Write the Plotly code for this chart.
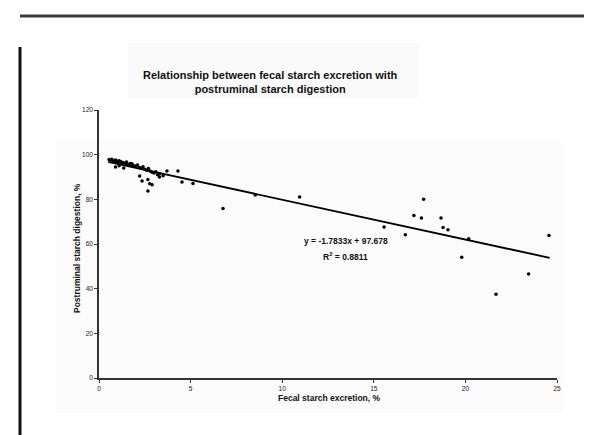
import plotly.graph_objects as go
import numpy as np

# Fecal starch excretion (%) vs postruminal starch digestion (%)
fecal_starch = [0.55, 0.65, 0.7, 0.8, 0.85, 0.9, 1.0, 1.05, 1.1, 1.2, 1.25, 1.3, 1.4, 1.45, 1.5,
                1.6, 1.7, 1.75, 1.8, 1.9, 2.0, 2.1, 2.2, 2.3, 2.4, 2.5, 2.6, 2.7, 2.8, 2.9, 3.0,
                3.1, 3.2, 3.3, 3.5, 0.9, 1.1, 1.35,
                2.22, 2.35, 2.67, 2.77, 2.67, 2.9, 3.71, 4.31, 3.3,
                4.53, 5.13, 6.77, 8.53, 10.95,
                15.56, 16.72, 17.19, 17.6, 17.72, 18.67, 18.78, 19.05, 19.8, 20.18,
                21.67, 23.45, 24.56]
postruminal_digestion = [97.8, 97.5, 98.0, 97.2, 96.6, 97.6, 97.0, 96.4, 97.3, 96.8, 95.9, 96.5, 96.2, 95.8, 96.7,
                         95.6, 96.1, 95.3, 95.9, 95.0, 94.8, 95.4, 94.2, 93.9, 94.6, 93.5, 93.0, 93.8, 92.6, 92.1, 91.8,
                         92.4, 91.0, 91.5, 90.6, 94.5, 95.0, 94.0,
                         90.4, 88.2, 88.9, 87.0, 83.7, 86.5, 92.7, 92.7, 90.0,
                         87.8, 87.1, 75.9, 81.9, 81.0,
                         67.6, 64.1, 72.8, 71.6, 80.0, 71.6, 67.4, 66.4, 54.1, 62.3,
                         37.5, 46.6, 63.8]

slope = -1.7833
intercept = 97.678
r_squared = 0.8811
trend_x_range = [0.5, 24.6]

x_ticks = [0, 5, 10, 15, 20, 25]
y_ticks = [0, 20, 40, 60, 80, 100, 120]

trend_x = np.array(trend_x_range)
trend_y = slope * trend_x + intercept

fig = go.Figure()
fig.add_trace(go.Scatter(x=fecal_starch, y=postruminal_digestion, mode="markers",
                         marker=dict(color="black", size=3.5), showlegend=False, cliponaxis=False))
fig.add_trace(go.Scatter(x=trend_x, y=trend_y, mode="lines",
                         line=dict(color="black", width=1.8), showlegend=False))

font_family = "Liberation Sans, Arial, sans-serif"

fig.update_layout(
    width=592, height=435,
    margin=dict(l=91, r=43, t=102, b=65),
    paper_bgcolor="white", plot_bgcolor="rgba(0,0,0,0)",
    font=dict(family=font_family, color="#222"),
    xaxis=dict(range=[0, 25], tickvals=x_ticks, ticks="outside", ticklen=3, tickwidth=1,
               tickcolor="#333", showline=True, linecolor="#333", linewidth=1.5,
               showgrid=False, zeroline=False, tickfont=dict(size=6.5, color="#222")),
    yaxis=dict(range=[0, 120], tickvals=y_ticks, ticks="outside", ticklen=3, tickwidth=1,
               tickcolor="#333", showline=True, linecolor="#333", linewidth=1.5,
               showgrid=False, zeroline=False, tickfont=dict(size=6.5, color="#222")),
)

pw, ph = 458.0, 268.0
def px(v):
    return (v - 91) / pw
def py(v):
    return (370 - v) / ph

shapes = [
    # faint scanned background panels
    dict(type="rect", xref="paper", yref="paper", x0=px(48), x1=px(555), y0=py(405), y1=py(133),
         fillcolor="#fbfbfb", line=dict(width=0), layer="below"),
    dict(type="rect", xref="paper", yref="paper", x0=px(120), x1=px(410), y0=py(90), y1=py(35),
         fillcolor="#fafafa", line=dict(width=0), layer="below"),
    # frame lines of the scan
    dict(type="line", xref="paper", yref="paper", x0=px(12), x1=px(592), y0=py(8), y1=py(8),
         line=dict(color="#3a3a3a", width=3)),
    dict(type="line", xref="paper", yref="paper", x0=px(12), x1=px(12), y0=py(39), y1=py(436),
         line=dict(color="#111", width=3)),
    dict(type="line", xref="paper", yref="paper", x0=px(591), x1=px(591), y0=py(9), y1=py(245),
         line=dict(color="#333", width=1.5)),
]
fig.update_layout(shapes=shapes)

annotations = [
    dict(text="<b>Relationship between fecal starch excretion with<br>postruminal starch digestion</b>",
         xref="paper", yref="paper", x=px(262), y=py(59), showarrow=False,
         font=dict(size=11, color="#111"), align="center"),
    dict(text="<b>Fecal starch excretion, %</b>", xref="paper", yref="paper",
         x=px(321), y=py(397), showarrow=False, font=dict(size=8.5, color="#111")),
    dict(text="<b>Postruminal starch digestion, %</b>", xref="paper", yref="paper",
         x=px(62), y=py(240), showarrow=False, textangle=-90, font=dict(size=8.5, color="#111")),
    dict(text=f"<b>y = {slope}x + {intercept}</b>", xref="paper", yref="paper",
         x=px(338), y=py(233), showarrow=False, font=dict(size=8.5, color="#111")),
    dict(text=f"<b>R<sup>2</sup> = {r_squared}</b>", xref="paper", yref="paper",
         x=px(337), y=py(248), showarrow=False, font=dict(size=8.5, color="#111")),
]
fig.update_layout(annotations=annotations)

fig.write_html("out.html")
